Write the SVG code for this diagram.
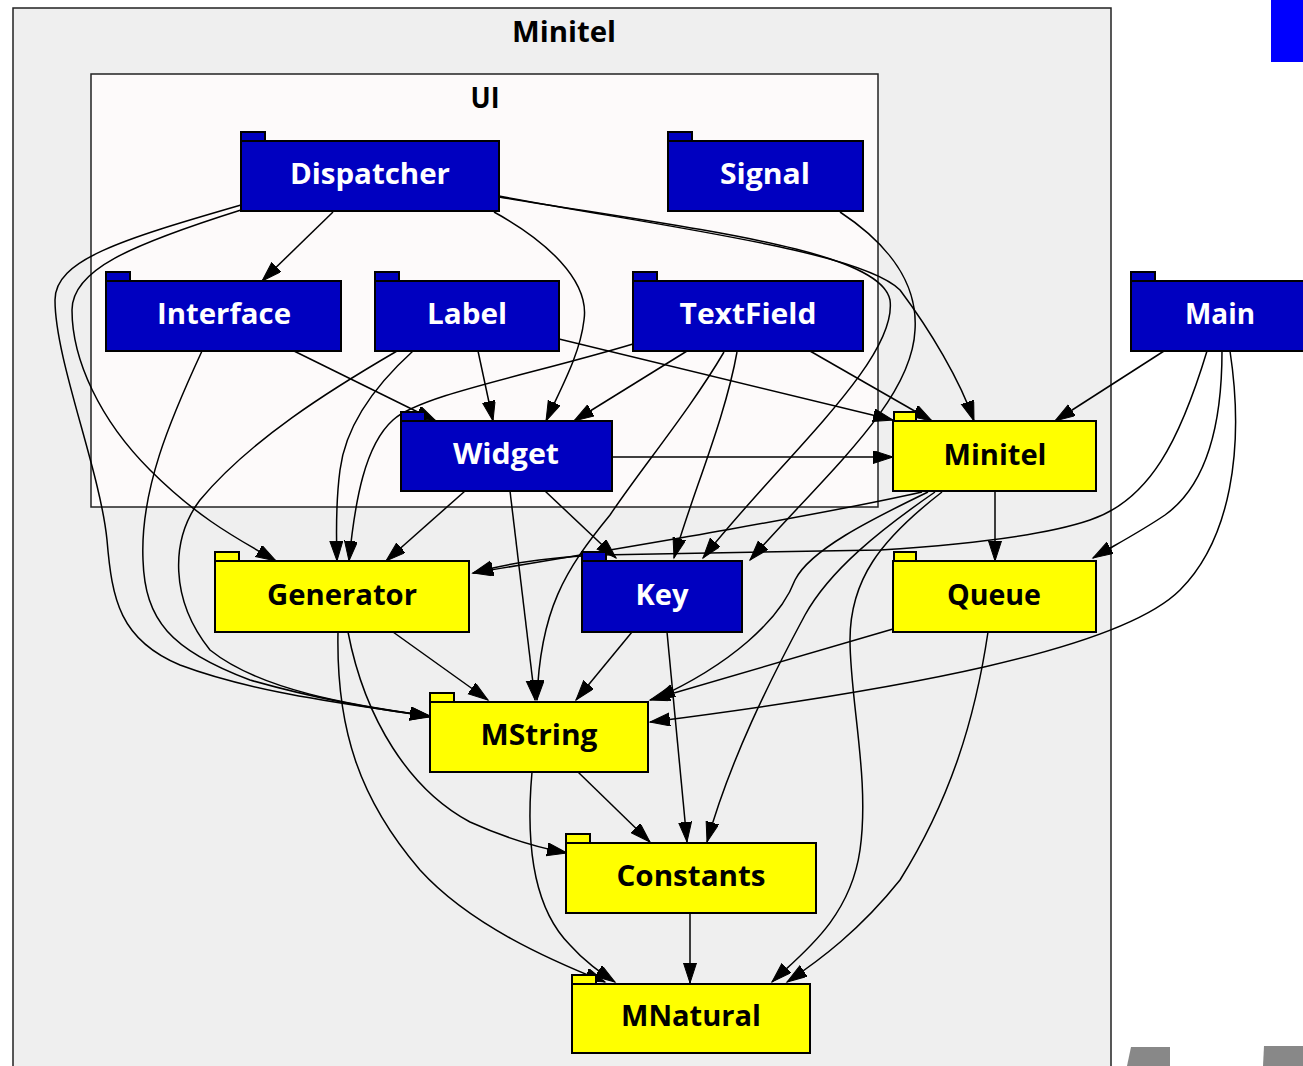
<svg xmlns="http://www.w3.org/2000/svg" width="1303" height="1066" viewBox="0 0 1303 1066">
<defs>
<style>
.cl{stroke:#222;stroke-width:1.5}
.b{fill:#0000c0;stroke:#000;stroke-width:2}
.y{fill:#ffff00;stroke:#000;stroke-width:2}
.t{font-family:"Open Sans","Liberation Sans",sans-serif;font-weight:bold;font-size:28px;text-anchor:middle}
.tw{fill:#fff}
.tb{fill:#000}
.e path{fill:none;stroke:#000;stroke-width:1.5;marker-end:url(#ah)}
</style>
<marker id="ah" markerUnits="userSpaceOnUse" markerWidth="22" markerHeight="14" refX="20" refY="6.5" orient="auto" viewBox="0 0 22 14">
<path d="M0,0 L20,6.5 L0,13 z" fill="#000" stroke="#000" stroke-width="1"/>
</marker>
</defs>
<rect width="1303" height="1066" fill="#fff"/>
<g id="cluster-minitel">
<rect class="cl" x="13" y="8" width="1098" height="1080" fill="#efefef"/>
<text class="t tb" x="564" y="42" textLength="104" lengthAdjust="spacingAndGlyphs">Minitel</text>
</g>
<g id="cluster-ui">
<rect class="cl" x="91" y="74" width="787" height="433" fill="#fdfafa"/>
<text class="t tb" x="485" y="108" textLength="29" lengthAdjust="spacingAndGlyphs">UI</text>
</g>
<rect x="1271" y="0" width="32" height="62" fill="#0000fe"/>
<polygon points="1131,1047 1170,1047 1170,1066 1127,1066" fill="#888"/>
<polygon points="1264,1046 1303,1046 1303,1066 1263,1066" fill="#888"/>
<g class="e" id="connectors">
<path d="M333,212 L262,281"/>
<path d="M294,351 L436,421"/>
<path d="M478,351 L493,421"/>
<path d="M494,212 C545,240 590,280 584,320 C580,355 560,390 546,421"/>
<path d="M687,351 L574,421"/>
<path d="M559,339 L893,420"/>
<path d="M810,351 L932,421"/>
<path d="M499,196 C650,225 860,250 900,290 C930,330 960,380 974,421"/>
<path d="M1164,351 L1055,421"/>
<path d="M612,457 L893,457"/>
<path d="M840,212 C890,245 918,285 915,330 C912,400 830,470 750,560"/>
<path d="M499,197 C700,230 880,250 890,300 C898,360 780,460 703,558"/>
<path d="M737,352 C725,420 690,500 674,558"/>
<path d="M545,491 L616,558"/>
<path d="M724,352 C690,410 640,470 610,515 C565,570 540,610 537,700"/>
<path d="M510,491 L535,700"/>
<path d="M632,632 L576,700"/>
<path d="M393,632 L488,700"/>
<path d="M928,492 C870,520 810,550 795,580 C780,620 730,665 655,699"/>
<path d="M893,629 L650,700"/>
<path d="M1230,351 C1245,450 1230,540 1180,590 C1120,650 900,690 650,722"/>
<path d="M241,205 C120,240 55,260 55,300 C55,360 100,470 107,540 C112,600 120,640 180,665 C260,695 360,705 430,717"/>
<path d="M241,210 C130,245 72,270 72,310 C72,360 100,420 150,470 C200,520 240,540 276,561"/>
<path d="M202,351 C170,420 140,490 143,560 C145,620 170,650 250,680 C320,700 380,710 430,716"/>
<path d="M397,351 C330,390 250,440 200,500 C170,540 170,600 210,650 C260,690 350,705 430,716"/>
<path d="M413,351 C370,390 345,430 340,470 C336,500 336,530 337,561"/>
<path d="M633,344 C530,375 420,395 393,420 C365,445 355,500 349,561"/>
<path d="M465,491 L386,561"/>
<path d="M922,492 C820,515 640,545 473,573"/>
<path d="M1207,351 C1180,440 1150,500 1090,520 C1040,537 960,545 880,550 L600,555 C540,558 500,565 473,573"/>
<path d="M1222,351 C1222,440 1200,490 1165,515 C1140,532 1115,545 1093,558"/>
<path d="M995,492 L995,561"/>
<path d="M935,492 C880,530 830,570 805,615 C770,680 730,760 707,842"/>
<path d="M942,492 C880,540 850,580 850,640 C850,700 870,780 860,850 C850,920 800,955 772,982"/>
<path d="M988,632 C975,720 950,800 900,880 C860,930 820,960 787,982"/>
<path d="M667,632 L687,842"/>
<path d="M578,772 L650,842"/>
<path d="M348,632 C365,720 410,790 470,822 C510,840 540,848 567,853"/>
<path d="M338,632 C336,730 360,800 420,870 C470,925 550,960 605,982"/>
<path d="M532,772 C525,850 535,910 570,945 C585,962 600,972 615,982"/>
<path d="M690,913 L690,983"/>
</g>
<g id="node-dispatcher"><rect class="b" x="241" y="132" width="24" height="9"/><rect class="b" x="241" y="141" width="258" height="70"/><text class="t tw" x="370" y="184" textLength="160" lengthAdjust="spacingAndGlyphs">Dispatcher</text></g>
<g id="node-signal"><rect class="b" x="668" y="132" width="24" height="9"/><rect class="b" x="668" y="141" width="195" height="70"/><text class="t tw" x="765" y="184" textLength="90" lengthAdjust="spacingAndGlyphs">Signal</text></g>
<g id="node-interface"><rect class="b" x="106" y="272" width="24" height="9"/><rect class="b" x="106" y="281" width="235" height="70"/><text class="t tw" x="224" y="324" textLength="134" lengthAdjust="spacingAndGlyphs">Interface</text></g>
<g id="node-label"><rect class="b" x="375" y="272" width="24" height="9"/><rect class="b" x="375" y="281" width="184" height="70"/><text class="t tw" x="467" y="324" textLength="80" lengthAdjust="spacingAndGlyphs">Label</text></g>
<g id="node-textfield"><rect class="b" x="633" y="272" width="24" height="9"/><rect class="b" x="633" y="281" width="230" height="70"/><text class="t tw" x="748" y="324" textLength="137" lengthAdjust="spacingAndGlyphs">TextField</text></g>
<g id="node-main"><rect class="b" x="1131" y="272" width="24" height="9"/><rect class="b" x="1131" y="281" width="180" height="70"/><text class="t tw" x="1220" y="324" textLength="70" lengthAdjust="spacingAndGlyphs">Main</text></g>
<g id="node-widget"><rect class="b" x="401" y="412" width="24" height="9"/><rect class="b" x="401" y="421" width="211" height="70"/><text class="t tw" x="506" y="464" textLength="106" lengthAdjust="spacingAndGlyphs">Widget</text></g>
<g id="node-minitel"><rect class="y" x="894" y="412" width="22" height="9"/><rect class="y" x="893" y="421" width="203" height="70"/><text class="t tb" x="995" y="465" textLength="103" lengthAdjust="spacingAndGlyphs">Minitel</text></g>
<g id="node-generator"><rect class="y" x="215" y="552" width="24" height="9"/><rect class="y" x="215" y="561" width="254" height="71"/><text class="t tb" x="342" y="605" textLength="150" lengthAdjust="spacingAndGlyphs">Generator</text></g>
<g id="node-key"><rect class="b" x="582" y="552" width="24" height="9"/><rect class="b" x="582" y="561" width="160" height="71"/><text class="t tw" x="662" y="605" textLength="53" lengthAdjust="spacingAndGlyphs">Key</text></g>
<g id="node-queue"><rect class="y" x="894" y="552" width="22" height="9"/><rect class="y" x="893" y="561" width="203" height="71"/><text class="t tb" x="994" y="605" textLength="94" lengthAdjust="spacingAndGlyphs">Queue</text></g>
<g id="node-mstring"><rect class="y" x="430" y="693" width="24" height="9"/><rect class="y" x="430" y="702" width="218" height="70"/><text class="t tb" x="539" y="745" textLength="117" lengthAdjust="spacingAndGlyphs">MString</text></g>
<g id="node-constants"><rect class="y" x="566" y="834" width="24" height="9"/><rect class="y" x="566" y="843" width="250" height="70"/><text class="t tb" x="691" y="886" textLength="149" lengthAdjust="spacingAndGlyphs">Constants</text></g>
<g id="node-mnatural"><rect class="y" x="572" y="975" width="24" height="9"/><rect class="y" x="572" y="984" width="238" height="69"/><text class="t tb" x="691" y="1026" textLength="140" lengthAdjust="spacingAndGlyphs">MNatural</text></g>
</svg>
